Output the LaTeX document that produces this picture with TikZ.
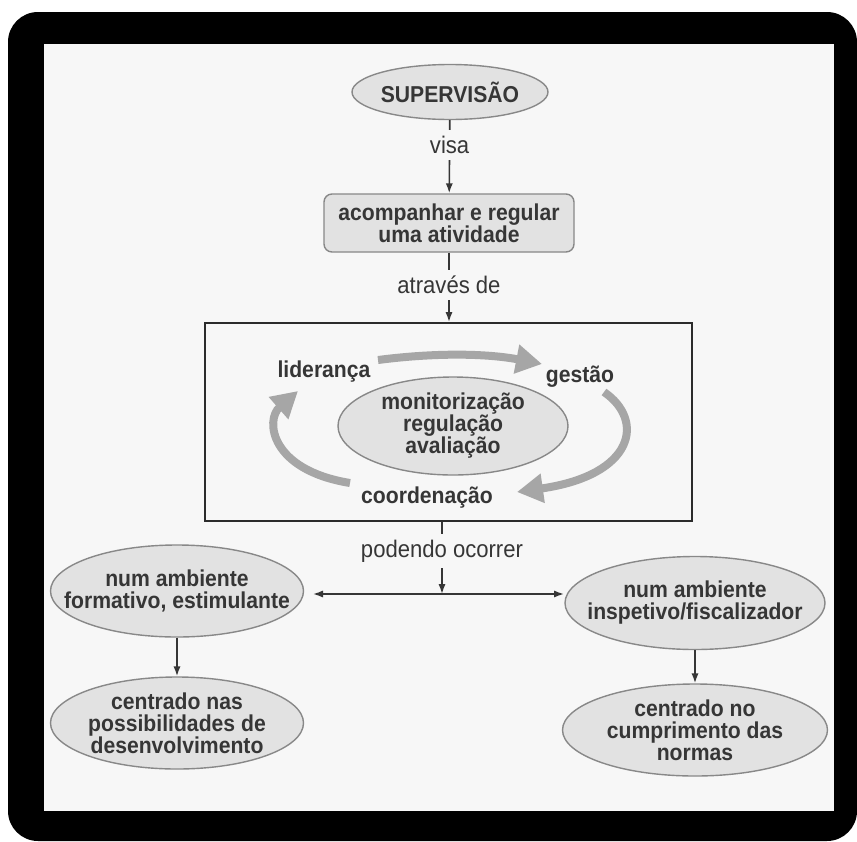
\documentclass[tikz,border=0pt]{standalone}
\usepackage{fontspec}
\setmainfont{Liberation Sans}[FakeStretch=0.92]
\usetikzlibrary{shapes.geometric, arrows.meta, positioning, calc}
\definecolor{ink}{HTML}{363636}
\definecolor{paper}{HTML}{F7F7F7}
\definecolor{ovalfill}{HTML}{E2E2E2}
\definecolor{ovalline}{HTML}{888888}
\definecolor{cyclegray}{HTML}{A6A6A6}

\begin{document}
\begin{tikzpicture}[
  x=0.5pt, y=-0.5pt,
  oval/.style={ellipse, draw=ovalline, fill=ovalfill, line width=0.7pt, inner xsep=-40pt, inner ysep=0pt, align=center, text=ink, font=\fontsize{11.5}{11}\selectfont\bfseries},
  caixa/.style={draw=ovalline, fill=ovalfill, rounded corners=4pt, line width=0.7pt, minimum width=125pt, minimum height=29pt, align=center, text=ink, font=\fontsize{11.5}{11}\selectfont\bfseries},
  termo/.style={text=ink, font=\fontsize{11.5}{11}\selectfont\bfseries},
  lbl/.style={fill=paper, inner xsep=2pt, inner ysep=3pt, text=ink, font=\fontsize{12}{12}\selectfont},
  arr/.style={-{Latex[length=5pt,width=3.6pt]}, draw=ink, line width=0.8pt},
  dup/.style={arr, {Latex[length=5pt,width=3.6pt]}-{Latex[length=5pt,width=3.6pt]}},
  volta/.style={-{Triangle[length=13pt,width=14pt]}, draw=cyclegray, line width=4pt}
]

% frame of the scan
\useasboundingbox (0,0) rectangle (857,841);
\fill[black, rounded corners=15pt] (8,12) rectangle (857,841);
\fill[paper] (44,44) rectangle (834,811);

% top chain
\node[oval, minimum width=98pt, minimum height=27.5pt, font=\fontsize{11.5}{12}\selectfont\bfseries] (sup) at (450,92) {SUPERVISÃO};
\node[caixa] (acomp) at (449,223) {acompanhar e regular\\uma atividade};
\node[draw=ink!80!black, line width=1pt, minimum width=243.5pt, minimum height=99pt] (quadro) at (448.5,422) {};

% cycle inside the box
\node[termo] (lider) at (324,372) {liderança};
\node[termo] (gestao) at (580,377) {gestão};
\node[termo] (coord) at (427,498) {coordenação};
\node[oval, minimum width=115pt, minimum height=49pt] (centro) at (453,426) {monitorização\\regulação\\avaliação};

\draw[volta] (378,360) .. controls (440,352) and (490,354) .. (542,364);
\draw[volta] (604,392) .. controls (645,420) and (635,475) .. (517,492);
\draw[volta] (350,483) .. controls (270,470) and (265,420) .. (298,391);

% branches
\coordinate (split) at (442,594);
\coordinate (esq) at (313,594);
\coordinate (dir) at (564,594);
\node[oval, minimum width=126.5pt, minimum height=46pt] (formativo) at (177,591) {num ambiente\\formativo, estimulante};
\node[oval, minimum width=130pt, minimum height=46.5pt] (inspetivo) at (695,603) {num ambiente\\inspetivo/fiscalizador};
\node[oval, minimum width=126.5pt, minimum height=46pt] (desenv) at (177,723) {centrado nas\\possibilidades de\\desenvolvimento};
\node[oval, minimum width=132.5pt, minimum height=46pt] (normas) at (695,730) {centrado no\\cumprimento das\\normas};

\draw[arr] (sup) -- (acomp) node[lbl, pos=0.34] {visa};
\draw[arr] (acomp) -- (quadro.north -| acomp) node[lbl, pos=0.46] {através de};
\draw[arr] (quadro.south -| split) -- (split) node[lbl, pos=0.4] {podendo ocorrer};
\draw[dup] (esq) -- (dir);
\draw[arr] (formativo) -- (desenv);
\draw[arr] (inspetivo) -- (normas);

\end{tikzpicture}
\end{document}
